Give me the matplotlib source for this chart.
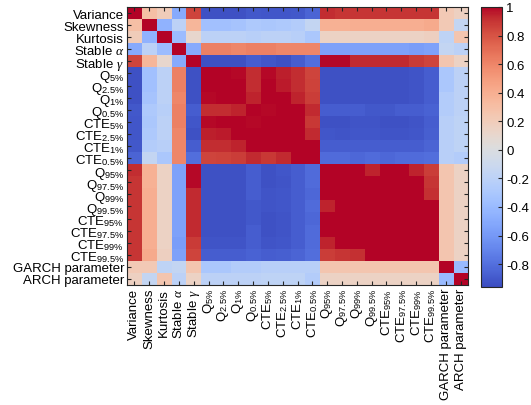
import matplotlib

matplotlib.use('Agg')
import matplotlib.pyplot as plt
import numpy as np

plt.rcParams['font.family'] = ['Liberation Sans', 'DejaVu Sans']
plt.rcParams['mathtext.fontset'] = 'custom'
plt.rcParams['mathtext.rm'] = 'Liberation Sans'
plt.rcParams['mathtext.it'] = 'Liberation Serif:italic'
plt.rcParams['axes.unicode_minus'] = False

labels = [
    'Variance', 'Skewness', 'Kurtosis', r'Stable $\alpha$', r'Stable $\gamma$',
    r'Q$_{\mathrm{5\%}}$', r'Q$_{\mathrm{2.5\%}}$', r'Q$_{\mathrm{1\%}}$', r'Q$_{\mathrm{0.5\%}}$',
    r'CTE$_{\mathrm{5\%}}$', r'CTE$_{\mathrm{2.5\%}}$', r'CTE$_{\mathrm{1\%}}$', r'CTE$_{\mathrm{0.5\%}}$',
    r'Q$_{\mathrm{95\%}}$', r'Q$_{\mathrm{97.5\%}}$', r'Q$_{\mathrm{99\%}}$', r'Q$_{\mathrm{99.5\%}}$',
    r'CTE$_{\mathrm{95\%}}$', r'CTE$_{\mathrm{97.5\%}}$', r'CTE$_{\mathrm{99\%}}$', r'CTE$_{\mathrm{99.5\%}}$',
    'GARCH parameter', 'ARCH parameter',
]

# correlation matrix (row by row)
corr_rows = [
    [1.00, 0.30, 0.20, -0.50, 0.85, -0.93, -0.93, -0.93, -0.90, -0.91, -0.91, -0.90, -0.85, 0.92, 0.90, 0.90, 0.90, 0.90, 0.90, 0.90, 0.90, 0.22, 0.16],
    [0.30, 1.00, -0.45, -0.20, 0.35, -0.35, -0.35, -0.33, -0.28, -0.30, -0.28, -0.25, -0.15, 0.38, 0.38, 0.40, 0.40, 0.40, 0.40, 0.40, 0.42, 0.22, -0.15],
    [0.20, -0.45, 1.00, -0.38, 0.10, -0.20, -0.20, -0.20, -0.22, -0.20, -0.20, -0.22, -0.30, 0.15, 0.15, 0.15, 0.15, 0.15, 0.15, 0.15, 0.17, -0.18, 0.25],
    [-0.50, -0.20, -0.38, 1.00, -0.50, 0.62, 0.62, 0.60, 0.62, 0.62, 0.60, 0.60, 0.60, -0.55, -0.55, -0.55, -0.55, -0.55, -0.55, -0.57, -0.55, -0.15, -0.20],
    [0.85, 0.35, 0.10, -0.50, 1.00, -0.93, -0.93, -0.93, -0.88, -0.91, -0.93, -0.88, -0.80, 0.99, 0.99, 0.93, 0.93, 0.93, 0.93, 0.88, 0.85, 0.25, 0.15],
    [-0.93, -0.35, -0.20, 0.62, -0.93, 1.00, 1.00, 0.99, 0.92, 0.99, 0.95, 0.92, 0.85, -0.93, -0.93, -0.93, -0.93, -0.93, -0.93, -0.92, -0.88, -0.30, -0.20],
    [-0.93, -0.35, -0.20, 0.62, -0.93, 1.00, 1.00, 1.00, 0.92, 1.00, 0.96, 0.92, 0.86, -0.93, -0.93, -0.93, -0.93, -0.93, -0.93, -0.92, -0.88, -0.30, -0.20],
    [-0.93, -0.33, -0.20, 0.60, -0.93, 0.99, 1.00, 1.00, 0.94, 1.00, 1.00, 0.94, 0.87, -0.93, -0.93, -0.93, -0.93, -0.93, -0.93, -0.92, -0.88, -0.25, -0.20],
    [-0.90, -0.28, -0.22, 0.62, -0.88, 0.92, 0.92, 0.94, 1.00, 0.99, 1.00, 1.00, 0.93, -0.88, -0.88, -0.88, -0.90, -0.90, -0.88, -0.88, -0.86, -0.25, -0.20],
    [-0.91, -0.30, -0.20, 0.62, -0.91, 0.99, 1.00, 1.00, 0.99, 1.00, 1.00, 1.00, 0.89, -0.93, -0.93, -0.92, -0.92, -0.93, -0.93, -0.92, -0.88, -0.22, -0.18],
    [-0.91, -0.28, -0.20, 0.60, -0.93, 0.95, 0.96, 1.00, 1.00, 1.00, 1.00, 1.00, 0.93, -0.91, -0.92, -0.91, -0.91, -0.92, -0.92, -0.91, -0.87, -0.22, -0.18],
    [-0.90, -0.25, -0.22, 0.60, -0.88, 0.92, 0.92, 0.94, 1.00, 1.00, 1.00, 1.00, 1.00, -0.88, -0.88, -0.88, -0.88, -0.88, -0.88, -0.88, -0.85, -0.22, -0.18],
    [-0.85, -0.15, -0.30, 0.60, -0.80, 0.85, 0.86, 0.87, 0.93, 0.89, 0.93, 1.00, 1.00, -0.82, -0.82, -0.83, -0.82, -0.83, -0.82, -0.82, -0.80, -0.22, -0.25],
    [0.92, 0.38, 0.15, -0.55, 0.99, -0.93, -0.93, -0.93, -0.88, -0.93, -0.91, -0.88, -0.82, 1.00, 1.00, 1.00, 0.94, 1.00, 1.00, 0.94, 0.87, 0.25, 0.15],
    [0.90, 0.38, 0.15, -0.55, 0.99, -0.93, -0.93, -0.93, -0.88, -0.93, -0.92, -0.88, -0.82, 1.00, 1.00, 1.00, 1.00, 1.00, 1.00, 1.00, 0.90, 0.25, 0.15],
    [0.90, 0.40, 0.15, -0.55, 0.93, -0.93, -0.93, -0.93, -0.88, -0.92, -0.91, -0.88, -0.83, 1.00, 1.00, 1.00, 1.00, 1.00, 1.00, 1.00, 0.91, 0.25, 0.15],
    [0.90, 0.40, 0.15, -0.55, 0.93, -0.93, -0.93, -0.93, -0.90, -0.92, -0.91, -0.88, -0.82, 0.94, 1.00, 1.00, 1.00, 1.00, 1.00, 1.00, 1.00, 0.25, 0.15],
    [0.90, 0.40, 0.15, -0.55, 0.93, -0.93, -0.93, -0.93, -0.90, -0.93, -0.92, -0.88, -0.83, 1.00, 1.00, 1.00, 1.00, 1.00, 1.00, 1.00, 1.00, 0.25, 0.15],
    [0.90, 0.40, 0.15, -0.55, 0.93, -0.93, -0.93, -0.93, -0.88, -0.93, -0.92, -0.88, -0.82, 1.00, 1.00, 1.00, 1.00, 1.00, 1.00, 1.00, 1.00, 0.25, 0.15],
    [0.90, 0.40, 0.15, -0.57, 0.88, -0.92, -0.92, -0.92, -0.88, -0.92, -0.91, -0.88, -0.82, 0.94, 1.00, 1.00, 1.00, 1.00, 1.00, 1.00, 1.00, 0.25, 0.15],
    [0.90, 0.42, 0.17, -0.55, 0.85, -0.88, -0.88, -0.88, -0.86, -0.88, -0.87, -0.85, -0.80, 0.87, 0.90, 0.91, 1.00, 1.00, 1.00, 1.00, 1.00, 0.25, 0.15],
    [0.22, 0.22, -0.18, -0.15, 0.25, -0.30, -0.30, -0.25, -0.25, -0.22, -0.22, -0.22, -0.22, 0.25, 0.25, 0.25, 0.25, 0.25, 0.25, 0.25, 0.25, 1.00, -0.40],
    [0.16, -0.15, 0.25, -0.20, 0.15, -0.20, -0.20, -0.20, -0.20, -0.18, -0.18, -0.18, -0.25, 0.15, 0.15, 0.15, 0.15, 0.15, 0.15, 0.15, 0.15, -0.40, 1.00],
]
cbar_ticks = [-0.8, -0.6, -0.4, -0.2, 0, 0.2, 0.4, 0.6, 0.8, 1]

corr = np.array(corr_rows)
corr = (corr + corr.T) / 2
n = len(labels)

fig = plt.figure(figsize=(5.31, 4.06), dpi=100)
ax = fig.add_axes([127 / 531, 1 - 286 / 406, 341 / 531, 278 / 406])
im = ax.imshow(corr, cmap='coolwarm', vmin=-0.96, vmax=1, aspect='auto',
               interpolation='nearest')
ax.set_xticks(range(n))
ax.set_xticklabels(labels, rotation=90)
ax.set_yticks(range(n))
ax.set_yticklabels(labels)
ax.tick_params(direction='in', top=True, right=True, length=3, width=0.8,
               labelsize=9.5, pad=2, color='#262626')
for s in ax.spines.values():
    s.set_color('#262626')
    s.set_linewidth(0.8)

cax = fig.add_axes([481 / 531, 1 - 288 / 406, 21 / 531, 280 / 406])
cb = fig.colorbar(im, cax=cax, ticks=cbar_ticks)
cb.ax.set_yticklabels(['{:g}'.format(t) for t in cbar_ticks])
cb.ax.tick_params(direction='in', length=3, width=0.8, labelsize=9.5, pad=3,
                  color='#262626')
cb.outline.set_edgecolor('#262626')
cb.outline.set_linewidth(0.8)

fig.savefig('out.png', dpi=100)
plt.close(fig)
